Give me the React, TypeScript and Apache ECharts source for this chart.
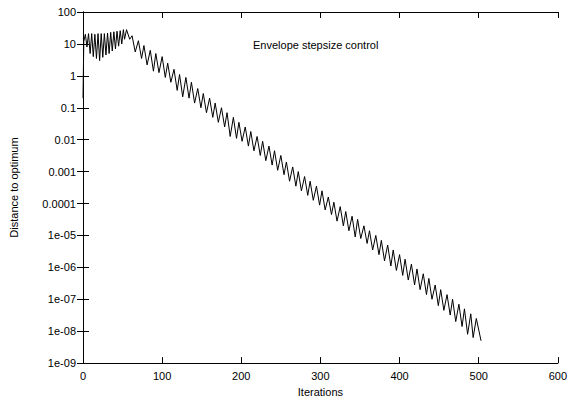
import React, { useEffect, useRef } from "react";
import * as echarts from "echarts";

const iterations: number[] = [
  0, 1, 3, 5, 7, 9, 11, 13, 15, 17, 19, 21, 23, 25, 27, 29, 31, 33, 35, 37, 39, 41, 43, 45, 47, 49, 51, 52.5, 55,
  59, 62, 66, 70, 74, 77, 81, 85, 89, 92, 96, 100, 104, 107, 111, 115, 119, 122, 126, 130, 134, 137, 141, 145, 149,
  152, 156, 160, 164, 167, 171, 175, 179, 182, 186, 190, 194, 197, 201, 205, 209, 212, 216, 220, 224, 227, 231, 235,
  239, 242, 246, 250, 254, 257, 261, 265, 269, 272, 276, 280, 284, 287, 291, 295, 299, 302, 306, 310, 314, 317, 321,
  325, 329, 332, 336, 340, 344, 347, 351, 355, 359, 362, 366, 370, 374, 377, 381, 385, 389, 392, 396, 400, 404, 407,
  411, 415, 419, 422, 426, 430, 434, 437, 441, 445, 449, 452, 456, 460, 464, 467, 471, 475, 479, 482, 486, 490, 493,
  497, 503,
];

const distance: number[] = [
  0.2, 12, 20, 8, 21, 5, 21, 4, 20, 3.5, 21, 3, 21, 3.8, 21, 4.5, 22, 5, 23, 6, 24, 7, 25, 8.5, 26, 10, 28, 14, 28,
  14, 18, 5.6, 12.6, 3.5, 8.9, 2.2, 6.3, 1.4, 5, 1.26, 4, 0.89, 2.5, 0.63, 1.6, 0.35, 1.1, 0.22, 0.89, 0.2, 0.63,
  0.14, 0.4, 0.1, 0.28, 0.07, 0.2, 0.05, 0.14, 0.035, 0.1, 0.025, 0.07, 0.0126, 0.05, 0.011, 0.035, 0.0089, 0.025,
  0.0063, 0.018, 0.0045, 0.0126, 0.0032, 0.0089, 0.0022, 0.0063, 0.0016, 0.0045, 0.0011, 0.0032, 8e-4, 0.002, 5e-4,
  1.4e-3, 3.5e-4, 1e-3, 2.5e-4, 7e-4, 1.8e-4, 5e-4, 1.26e-4, 3.5e-4, 8.9e-5, 2.5e-4, 6.3e-5, 1.6e-4, 4.5e-5, 1.1e-4,
  2.8e-5, 8e-5, 2e-5, 5.6e-5, 1.4e-5, 4e-5, 8.9e-6, 3.2e-5, 8e-6, 2e-5, 5.6e-6, 1.4e-5, 3.5e-6, 1e-5, 2.5e-6, 7e-6,
  1.6e-6, 5e-6, 1.1e-6, 3.5e-6, 8e-7, 2.5e-6, 5.6e-7, 1.8e-6, 4e-7, 1.26e-6, 2.8e-7, 8.9e-7, 2e-7, 6.3e-7, 1.4e-7,
  4.5e-7, 1e-7, 2.8e-7, 6.3e-8, 2e-7, 4.5e-8, 1.4e-7, 3.2e-8, 1e-7, 2e-8, 7e-8, 1.4e-8, 5e-8, 8e-9, 3.5e-8, 6.3e-9,
  2.5e-8, 5e-9,
];

const yTickLabels: string[] = [
  "1e-09", "1e-08", "1e-07", "1e-06", "1e-05", "0.0001", "0.001", "0.01", "0.1", "1", "10", "100",
];
const yMinExp = -9;

const keyTitle = "Envelope stepsize control";
const xName = "Iterations";
const yName = "Distance to optimum";

const FONT = "'Liberation Sans', Arial, sans-serif";

export default function App() {
  const ref = useRef<HTMLDivElement>(null);
  useEffect(() => {
    if (!ref.current) return;
    const chart = echarts.init(ref.current, undefined, { renderer: "svg" });
    const data = iterations.map((x, i) => [x, distance[i]]);
    const yLabel = (v: number) => {
      const e = Math.round(Math.log10(v));
      return yTickLabels[e - yMinExp] ?? "";
    };
    const axisLine = { show: true, lineStyle: { color: "#000", width: 1 } };
    const tick = { show: true, inside: true, length: 6, lineStyle: { color: "#000", width: 1 } };
    const label = { color: "#000", fontSize: 11, fontFamily: FONT };
    chart.setOption({
      animation: false,
      backgroundColor: "#fff",
      grid: { left: 79, width: 479, top: 12, height: 359, containLabel: false },
      xAxis: [
        {
          type: "value",
          min: 0,
          max: 600,
          interval: 100,
          position: "bottom",
          name: xName,
          nameLocation: "middle",
          nameGap: 18,
          nameTextStyle: { color: "#000", fontSize: 11, fontFamily: FONT },
          axisLine,
          axisTick: tick,
          axisLabel: { ...label, margin: 7 },
          splitLine: { show: false },
        },
        {
          type: "value",
          min: 0,
          max: 600,
          interval: 100,
          position: "top",
          axisLine,
          axisTick: tick,
          axisLabel: { show: false },
          splitLine: { show: false },
        },
      ],
      yAxis: [
        {
          type: "log",
          logBase: 10,
          min: 1e-9,
          max: 100,
          interval: 1,
          position: "left",
          name: yName,
          nameLocation: "middle",
          nameGap: 64,
          nameTextStyle: { color: "#000", fontSize: 11, fontFamily: FONT },
          axisLine,
          axisTick: tick,
          minorTick: { show: false },
          axisLabel: { ...label, margin: 7, formatter: yLabel },
          splitLine: { show: false },
        },
        {
          type: "log",
          logBase: 10,
          min: 1e-9,
          max: 100,
          interval: 1,
          position: "right",
          axisLine,
          axisTick: tick,
          axisLabel: { show: false },
          splitLine: { show: false },
        },
      ],
      graphic: [
        {
          type: "text",
          left: 253,
          top: 39,
          style: { text: keyTitle, fill: "#000", font: `11px ${FONT}` },
        },
      ],
      series: [
        {
          type: "line",
          data,
          showSymbol: false,
          symbol: "none",
          lineStyle: { color: "#000", width: 1 },
          xAxisIndex: 0,
          yAxisIndex: 0,
        },
      ],
    });
    return () => chart.dispose();
  }, []);
  return (
    <div
      ref={ref}
      style={{ position: "fixed", left: 0, top: 0, width: 570, height: 402, background: "#fff" }}
    />
  );
}
